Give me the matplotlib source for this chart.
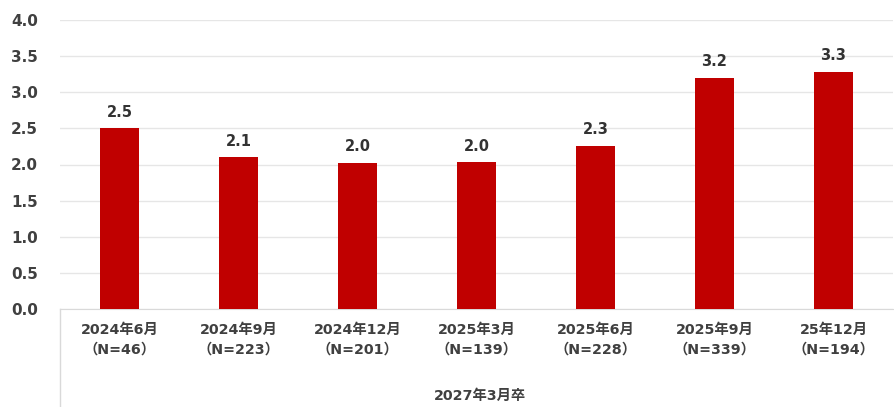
import matplotlib
matplotlib.use("Agg")
import matplotlib.pyplot as plt
from matplotlib.lines import Line2D

plt.rcParams['font.family'] = ['DejaVu Sans', 'Noto Sans CJK JP']

categories = ["2024年6月", "2024年9月", "2024年12月", "2025年3月", "2025年6月", "2025年9月", "25年12月"]
n_labels = ["（N=46）", "（N=223）", "（N=201）", "（N=139）", "（N=228）", "（N=339）", "（N=194）"]
values = [2.5, 2.1, 2.02, 2.03, 2.26, 3.2, 3.28]
group_label = "2027年3月卒"
yticks = [0.0, 0.5, 1.0, 1.5, 2.0, 2.5, 3.0, 3.5, 4.0]

W, H = 895, 407
fig = plt.figure(figsize=(W / 100, H / 100), dpi=100)
ax = fig.add_axes([60 / W, (H - 309) / H, (893 - 60) / W, (309 - 20) / H])

x = list(range(len(categories)))
bars = ax.bar(x, values, width=0.32, color="#C00000", zorder=3)
for xi, v in zip(x, values):
    ax.text(xi, v + 0.12, f"{v:.1f}", ha="center", va="bottom", fontsize=10.5,
            fontweight="bold", color="#333333")

ax.set_xlim(-0.5, len(categories) - 0.5)
ax.set_ylim(0, 4.0)
ax.set_yticks(yticks)
ax.set_yticklabels([f"{t:.1f}" for t in yticks], fontsize=11, fontweight="bold", color="#404040")
ax.set_xticks(x)
ax.set_xticklabels([f"{c}\n{n}" for c, n in zip(categories, n_labels)], fontsize=10.3,
                   fontweight="bold", color="#404040", linespacing=1.55)
ax.tick_params(axis="both", length=0)
ax.tick_params(axis="x", pad=10)
ax.tick_params(axis="y", pad=16)
ax.grid(axis="y", color="#E6E6E6", linewidth=1, zorder=0)
for s in ["top", "right", "left"]:
    ax.spines[s].set_visible(False)
ax.spines["bottom"].set_color("#D9D9D9")

# group separator line and group label
fig.add_artist(Line2D([60 / W, 60 / W], [0, (H - 309) / H], color="#D9D9D9", linewidth=1))
fig.text(480 / W, 1 - 396 / H, group_label, ha="center", va="center", fontsize=10.3,
         fontweight="bold", color="#404040")

fig.savefig("out.png", dpi=100)
